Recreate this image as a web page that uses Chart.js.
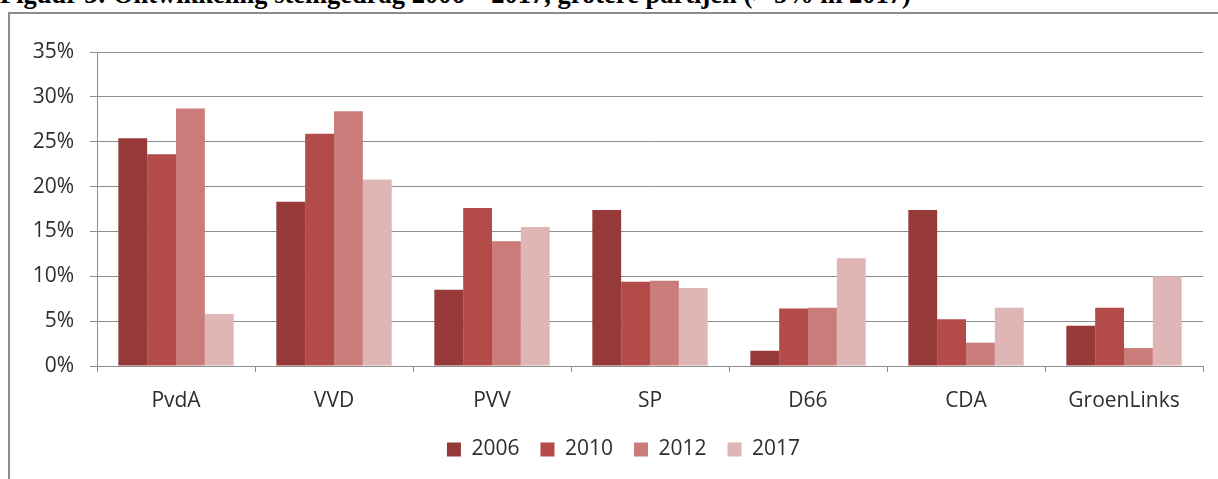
<!DOCTYPE html>
<html>
<head>
<meta charset="utf-8">
<script src="https://cdn.jsdelivr.net/npm/chart.js@4/dist/chart.umd.min.js"></script>
<style>
  html, body { margin: 0; padding: 0; background: #fff; overflow: hidden; }
  body { width: 1218px; height: 479px; position: relative; }
  #title {
    position: absolute; left: 0; top: -19px; white-space: nowrap;
    font-family: "Liberation Serif", "DejaVu Serif", serif; font-weight: bold; font-size: 26.5px;
    line-height: 26.5px; color: #000;
  }
  #frame {
    position: absolute; left: 8px; top: 12px; width: 1210px; height: 467px;
    border-left: 2px solid #8c8c8c; border-top: 2px solid #8c8c8c;
  }
  #myChart { position: absolute; left: 0; top: 0; }
</style>
</head>
<body>
<div id="title">Figuur 3: Ontwikkeling stemgedrag 2006 – 2017, grotere partijen (&gt; 5% in 2017)</div>
<div id="frame"><canvas id="myChart" width="1208" height="465"></canvas></div>
<script>
var parties = ['PvdA', 'VVD', 'PVV', 'SP', 'D66', 'CDA', 'GroenLinks']
var years = ['2006', '2010', '2012', '2017']

var v2006 = [25.4, 18.3, 8.5, 17.4, 1.7, 17.4, 4.5]
var v2010 = [23.6, 25.9, 17.6, 9.4, 6.4, 5.2, 6.5]
var v2012 = [28.7, 28.4, 13.9, 9.5, 6.5, 2.6, 2.0]
var v2017 = [5.8, 20.8, 15.5, 8.7, 12.0, 6.5, 10.0]

var yTicks = [0, 5, 10, 15, 20, 25, 30, 35]

var colors = ['#953a39', '#b34b48', '#c97c7a', '#dfb5b5']

var font = { family: '"Open Sans", Lato, sans-serif', size: 21 }
var textColor = '#2e2e2e'
var lineColor = '#8e8e8e'

var series = [v2006, v2010, v2012, v2017]
var datasets = []
for (var i = 0; i < years.length; i++) {
  datasets.push({
    label: years[i],
    data: series[i],
    backgroundColor: colors[i],
    borderWidth: 0,
    categoryPercentage: 0.73,
    barPercentage: 1.0
  })
}

// legend sits a bit right of centre in the original
var shiftLegend = {
  id: 'shiftLegend',
  afterLayout: function (c) {
    c.legend.left += 17
    c.legend.right += 17
  }
}

var ctx = document.getElementById('myChart').getContext('2d')
var chart = new Chart(ctx, {
  type: 'bar',
  data: { labels: parties, datasets: datasets },
  plugins: [shiftLegend],
  options: {
    responsive: false,
    animation: false,
    devicePixelRatio: 1,
    layout: { padding: { top: 38, right: 15, bottom: 9, left: 0 } },
    plugins: {
      tooltip: { enabled: false },
      legend: {
        position: 'bottom',
        labels: {
          font: font,
          color: textColor,
          boxWidth: 14,
          boxHeight: 14,
          padding: 21
        }
      }
    },
    scales: {
      x: {
        grid: {
          display: true,
          drawOnChartArea: false,
          drawTicks: true,
          tickLength: 6,
          offset: true,
          color: lineColor
        },
        border: { display: true, color: lineColor, width: 1 },
        ticks: { font: font, color: textColor, padding: 16, maxRotation: 0 },
        afterFit: function (s) { s.height = 52 }
      },
      y: {
        min: 0,
        max: 35,
        afterBuildTicks: function (s) {
          s.ticks = yTicks.map(function (v) { return { value: v } })
        },
        grid: { color: lineColor, tickLength: 7, lineWidth: 1 },
        border: { display: true, color: lineColor, width: 1 },
        ticks: {
          font: font,
          color: textColor,
          padding: 16,
          callback: function (v) { return v + '%' }
        },
        afterFit: function (s) { s.width = 87 }
      }
    }
  }
})
</script>
</body>
</html>
